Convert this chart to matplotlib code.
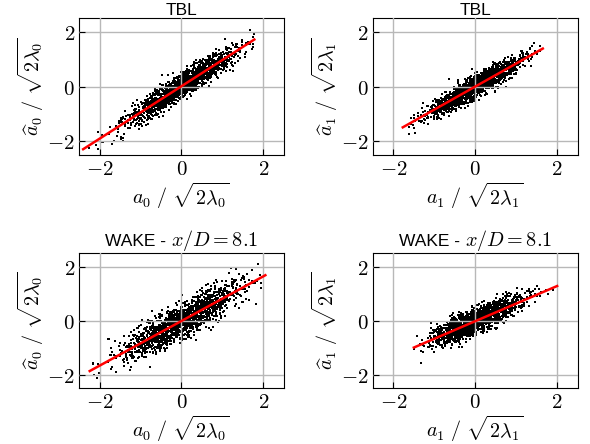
import matplotlib
matplotlib.use("Agg")
import matplotlib.pyplot as plt
import numpy as np
from matplotlib.offsetbox import AnchoredOffsetbox, HPacker, TextArea

plt.rcParams["mathtext.fontset"] = "cm"
plt.rcParams["font.family"] = "DejaVu Sans"

# panel titles (text part, math part) and axis labels
title_text = ["TBL", "TBL", "WAKE - ", "WAKE - "]
title_math = ["", "", r"$x/D = 8.1$", r"$x/D = 8.1$"]
xlabels = [r"$a_0\ /\ \sqrt{2\lambda_0}$", r"$a_1\ /\ \sqrt{2\lambda_1}$",
           r"$a_0\ /\ \sqrt{2\lambda_0}$", r"$a_1\ /\ \sqrt{2\lambda_1}$"]
ylabels = [r"$\widehat{a}_0\ /\ \sqrt{2\lambda_0}$", r"$\widehat{a}_1\ /\ \sqrt{2\lambda_1}$",
           r"$\widehat{a}_0\ /\ \sqrt{2\lambda_0}$", r"$\widehat{a}_1\ /\ \sqrt{2\lambda_1}$"]
tick_vals = [-2, 0, 2]
tick_labels = [r"$-2$", r"$0$", r"$2$"]

# red fit line end points
fit_x0 = [-2.40, -1.77, -2.24, -1.50]
fit_x1 = [1.78, 1.65, 2.05, 2.00]
fit_y0 = [-2.29, -1.49, -1.87, -1.00]
fit_y1 = [1.72, 1.39, 1.68, 1.28]

# scatter cloud shape:
# spread of the true coefficient and scatter about the fit line
n_points = [1600, 1600, 1600, 1600]
x_spread = [0.68, 0.56, 0.72, 0.54]
y_scatter = [0.22, 0.20, 0.32, 0.24]

# axes boxes in figure fractions
boxes = [(0.134, 0.651, 0.347, 0.308), (0.632, 0.651, 0.347, 0.308),
         (0.134, 0.126, 0.347, 0.304), (0.632, 0.126, 0.347, 0.304)]

fig = plt.figure(figsize=(5.9, 4.44), dpi=100)
rng = np.random.default_rng(3)

for i in range(4):
    ax = fig.add_axes(boxes[i])
    slope = (fit_y1[i] - fit_y0[i]) / (fit_x1[i] - fit_x0[i])
    icpt = fit_y0[i] - slope * fit_x0[i]
    x = rng.normal(0, x_spread[i], n_points[i])
    x = x[(x > fit_x0[i]) & (x < fit_x1[i])]
    y = slope * x + icpt + rng.normal(0, y_scatter[i], x.size)

    ax.scatter(x, y, s=1.0, c="black", marker="s", linewidths=0, zorder=1)
    ax.grid(True, color="#b8b8b8", linewidth=1.0, zorder=2)
    ax.set_axisbelow(False)
    ax.plot([fit_x0[i], fit_x1[i]], [fit_y0[i], fit_y1[i]], color="red", lw=1.8, zorder=3)

    ax.set_xlim(-2.5, 2.5)
    ax.set_ylim(-2.5, 2.5)
    ax.set_xticks(tick_vals)
    ax.set_xticklabels(tick_labels)
    ax.set_yticks(tick_vals)
    ax.set_yticklabels(tick_labels)
    ax.tick_params(direction="in", length=4, labelsize=15, pad=3)
    ax.set_xlabel(xlabels[i], fontsize=14.5, labelpad=1)
    ax.set_ylabel(ylabels[i], fontsize=14.5, labelpad=1)

    parts = [TextArea(title_text[i], textprops=dict(fontsize=12.5, family="Liberation Sans"))]
    if title_math[i]:
        parts.append(TextArea(title_math[i], textprops=dict(fontsize=14.5)))
    box = AnchoredOffsetbox(loc="lower center", child=HPacker(children=parts, align="baseline", pad=0, sep=0),
                            bbox_to_anchor=(0.5, 1.0), bbox_transform=ax.transAxes,
                            frameon=False, pad=0, borderpad=0)
    ax.add_artist(box)

fig.savefig("out.png", dpi=100)
